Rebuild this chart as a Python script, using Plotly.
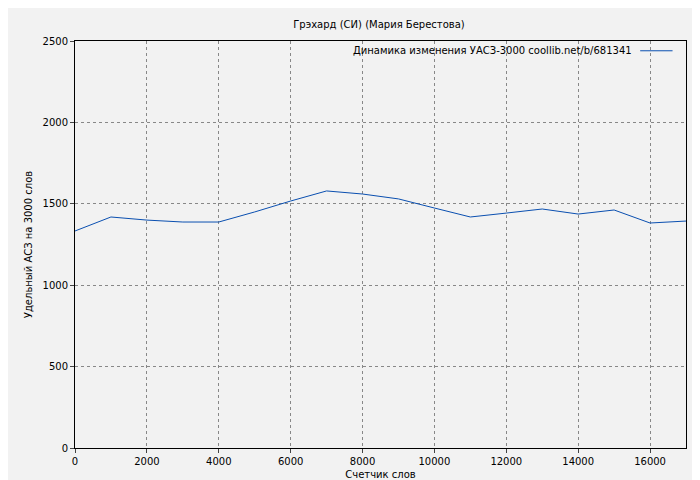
import plotly.graph_objects as go

words = [0,1000,2000,3000,4000,5000,6000,7000,8000,9000,10000,11000,12000,13000,14000,15000,16000,17000]
asz = [1333,1419,1400,1388,1388,1450,1517,1579,1560,1530,1474,1419,1443,1468,1437,1462,1382,1394]
title = "Грэхард (СИ) (Мария Берестова)"
series_name = "Динамика изменения УАСЗ-3000 coollib.net/b/681341"

fig = go.Figure()
fig.add_trace(go.Scatter(x=words, y=asz, mode="lines", line=dict(color="#0a4fb0", width=1),
                         name=series_name, showlegend=False))
fig.update_layout(
    width=700, height=480, autosize=False, paper_bgcolor="#f2f2f2", plot_bgcolor="#f2f2f2",
    margin=dict(l=67, r=22, t=33, b=40, autoexpand=False),
    font=dict(family="DejaVu Sans", size=11, color="black"),
    title=dict(text=title, x=0.53, xanchor="center", y=0.966, yanchor="middle", font=dict(size=10)),
)
ax = dict(showline=True, linecolor="black", mirror=True, ticks="outside", ticklen=4, automargin=False,
          gridcolor="#888888", griddash="dot", gridwidth=1, zeroline=False, tickfont=dict(size=10), tickformat="d")
fig.update_xaxes(range=[0,17000], dtick=2000, title=dict(text="Счетчик слов", font=dict(size=10), standoff=4), **ax)
fig.update_yaxes(range=[0,2500], dtick=500, title=dict(text="Удельный АСЗ на 3000 слов", font=dict(size=10), standoff=8), **ax)
fig.add_annotation(x=0.915, y=0.976, xref="paper", yref="paper", text=series_name, showarrow=False,
                   xanchor="right", yanchor="middle", font=dict(size=10))
fig.add_shape(type="line", xref="paper", yref="paper", x0=0.925, x1=0.978, y0=0.976, y1=0.976,
              line=dict(color="#0a4fb0", width=1))
fig.write_html("out.html")
